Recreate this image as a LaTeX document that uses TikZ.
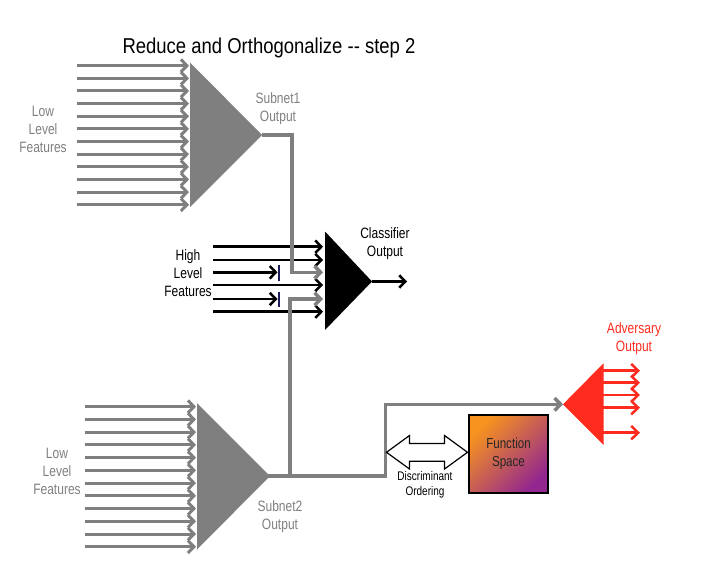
\documentclass[tikz,border=0pt]{standalone}
\usepackage{fontspec}
\setmainfont{Liberation Sans}[FakeStretch=0.8]
\newfontfamily\titlefont{Liberation Sans}[FakeStretch=0.86]
\usetikzlibrary{arrows.meta}
\definecolor{gr}{HTML}{7F7F7F}
\definecolor{rd}{HTML}{FF2B1E}
\definecolor{nv}{HTML}{1C1C5A}
\definecolor{org}{HTML}{F7931E}
\definecolor{pur}{HTML}{93278F}
\begin{document}
\begin{tikzpicture}[x=1pt,y=-1pt,
  tip/.style={-{Straight Barb[length=6pt,width=12.5pt]}},
  feat/.style={tip, line width=3pt, gr},
  hifeat/.style={tip, line width=2.5pt, black},
  route/.style={tip, line width=3.5pt, gr, line join=miter},
  redout/.style={-{Straight Barb[length=7pt,width=13.5pt]}, line width=2.5pt, rd},
  bar/.style={line width=2.5pt, nv},
  lbl/.style={align=center, inner sep=0pt, font=\fontsize{15}{18}\selectfont},
]
\useasboundingbox (0,0) rectangle (710,578);

% title
\node[inner sep=0pt, font=\titlefont\fontsize{21.5}{24}\selectfont] (title) at (269,48) {Reduce and Orthogonalize -{}- step 2};

% top subnet
\fill[gr] (190,62.5) -- (262,135) -- (190,207) -- cycle;
\coordinate (t1apex) at (262,135);
\foreach \i in {0,...,11}{
  \coordinate (ta\i) at (77,{65.7+12.64*\i});
  \coordinate (tb\i) at (189,{65.7+12.64*\i});
  \draw[feat] (ta\i) -- (tb\i);
}
\node[lbl, gr] (llf1) at (43,129) {Low\\Level\\Features};
\node[lbl, gr] (s1out) at (278,108.5) {Subnet1\\Output};

% bottom subnet
\fill[gr] (197,403) -- (270,476) -- (197,549.5) -- cycle;
\coordinate (t2apex) at (260,476);
\foreach \i in {0,...,11}{
  \coordinate (ba\i) at (85,{406.7+12.73*\i});
  \coordinate (bb\i) at (196,{406.7+12.73*\i});
  \draw[feat] (ba\i) -- (bb\i);
}
\node[lbl, gr] (llf2) at (57,471) {Low\\Level\\Features};
\node[lbl, gr] (s2out) at (280,516.5) {Subnet2\\Output};

% classifier
\fill[black] (325,231.5) -- (372,281.5) -- (325,330) -- cycle;
\coordinate (capex) at (372,281.5);
\coordinate (cout) at (407,281.5);
\draw[hifeat] (capex) -- (cout);
\node[lbl] (clab) at (385,243.5) {Classifier\\Output};
\node[lbl] (hlf) at (188,273.5) {High\\Level\\Features};

\foreach \i/\y in {1/246.7,2/260,3/272.3,4/285,5/299,6/311.7}{
  \coordinate (ha\i) at (213,\y);
  \coordinate (ci\i) at (323,\y);
}
\draw[hifeat] (ha1) -- (ci1);
\draw[hifeat] (ha2) -- (ci2);
\draw[hifeat] (ha4) -- (ci4);
\draw[hifeat] (ha6) -- (ci6);
\coordinate (bk1) at (277.5,272.3);
\coordinate (bk2) at (277.5,299);
\draw[hifeat] (ha3) -- (bk1);
\draw[hifeat] (ha5) -- (bk2);
\coordinate (b1t) at (279,264.5);
\coordinate (b1b) at (279,280.5);
\coordinate (b2t) at (279,291.5);
\coordinate (b2b) at (279,306.5);
\draw[bar] (b1t) -- (b1b);
\draw[bar] (b2t) -- (b2b);

% routes
\coordinate (j1) at (292,272.3);
\coordinate (j2) at (290,299);
\coordinate (j2b) at (290,476);
\coordinate (k1) at (385.5,476);
\coordinate (advtip) at (563,404.3);
\draw[route] (t1apex) -| (j1) -- (ci3);
\draw[route] (j2b) -- (j2) -- (ci5);
\draw[route] (t2apex) -- (k1) |- (advtip);

% adversary
\fill[rd] (563,404.3) -- (603.5,363.3) -- (603.5,445) -- cycle;
\foreach \i/\y in {1/370.7,2/382.7,3/395,4/407.7,5/432.7}{
  \coordinate (ra\i) at (603,\y);
  \coordinate (rb\i) at (640,\y);
  \draw[redout] (ra\i) -- (rb\i);
}
\node[lbl, rd] (alab) at (634,339) {Adversary\\Output};

% discriminant ordering double arrow
\draw[black, line width=1.2pt, fill=white, line join=miter]
  (386.5,452.3) -- (409.5,435.5) -- (409.5,443.5) -- (444.5,443.5) -- (444.5,435.5)
  -- (467.5,452.3) -- (444.5,469) -- (444.5,461.2) -- (409.5,461.2) -- (409.5,469) -- cycle;
\coordinate (dl) at (386.5,452.3);
\coordinate (dr) at (467.5,452.3);
\node[align=center, inner sep=0pt, font=\fontsize{12.5}{15}\selectfont] (dlab) at (425,484.5) {Discriminant\\Ordering};

% function space
\node[draw=black, line width=2pt, minimum width=79pt, minimum height=78pt,
  top color=org, bottom color=pur, shading angle=45, align=center,
  font=\fontsize{14.5}{18}\selectfont, text=black!85] (fs) at (508.5,454) {Function\\Space};
\end{tikzpicture}
\end{document}
